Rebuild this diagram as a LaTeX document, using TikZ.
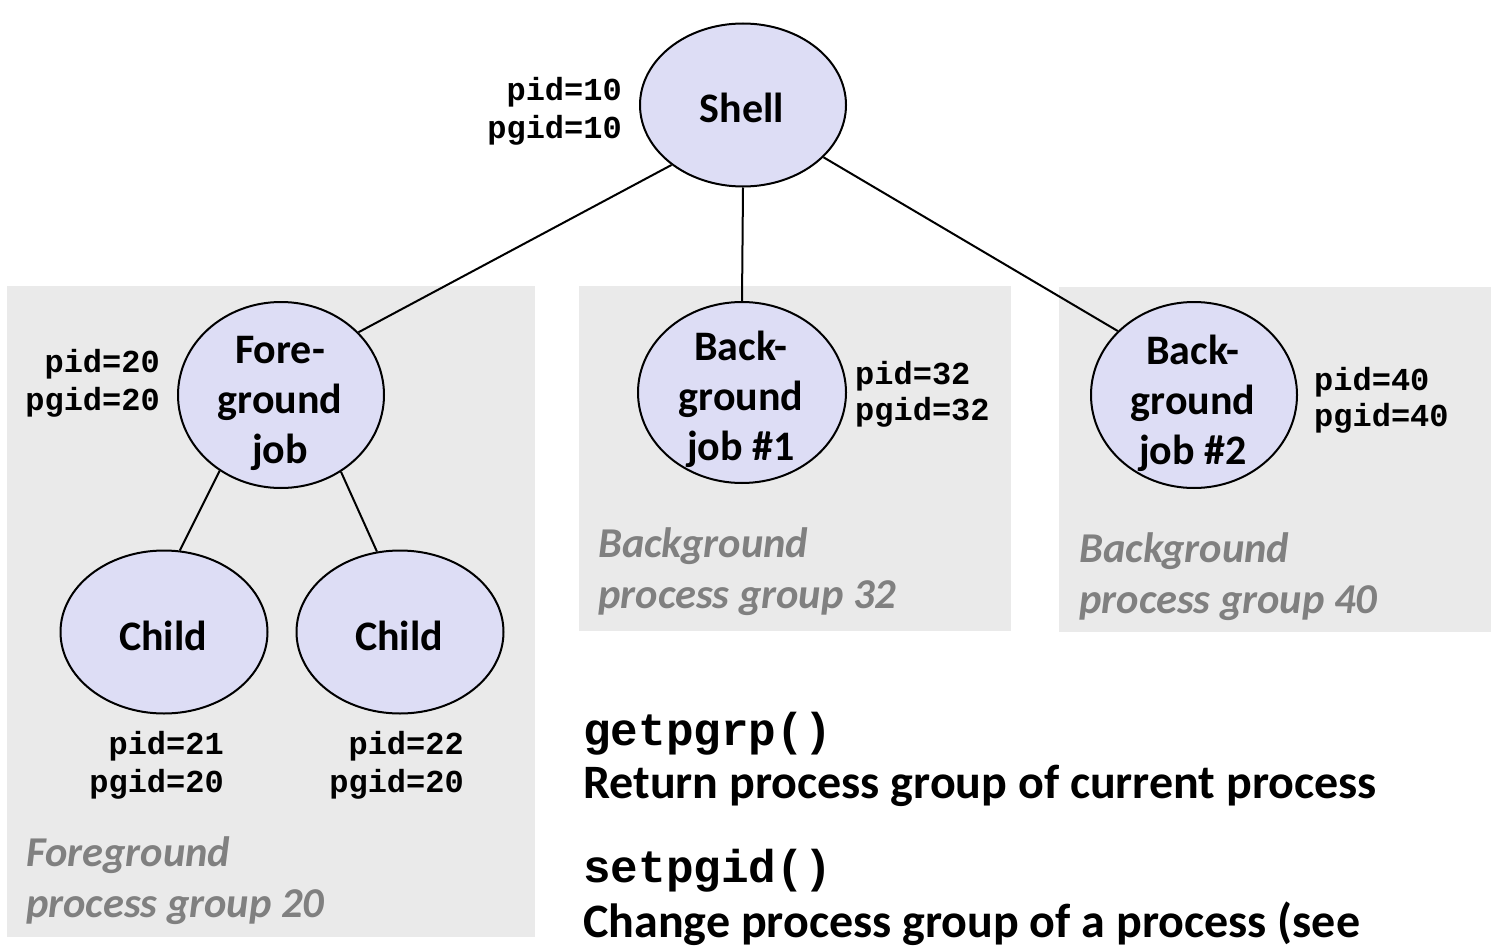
\documentclass[tikz,border=0pt]{standalone}
\usepackage{fontspec}
\setmainfont{Carlito}
\setmonofont{Liberation Mono}
\usetikzlibrary{shapes.geometric}
\definecolor{procfill}{RGB}{221,221,245}
\definecolor{groupfill}{RGB}{234,234,234}
\definecolor{grouptext}{RGB}{128,128,128}
\tikzset{
  proc/.style={ellipse, draw=black, line width=2pt, fill=procfill, inner sep=0pt,
    minimum width=#1},
  proc/.default=206pt,
  proctext/.style={align=center, inner sep=0pt, font=\fontsize{42}{50}\selectfont\bfseries},
  idl/.style={inner sep=0pt, font=\fontsize{32}{38}\selectfont\ttfamily\bfseries},
  grp/.style={fill=groupfill, draw=none},
  grplabel/.style={inner sep=0pt, anchor=base west, text=grouptext,
    font=\fontsize{42.5}{52}\selectfont\bfseries\itshape},
  edge/.style={draw=black, line width=2pt},
  codel/.style={inner sep=0pt, anchor=base west, font=\fontsize{46}{50}\selectfont\ttfamily\bfseries},
  descl/.style={inner sep=0pt, anchor=base west, font=\fontsize{48}{56}\selectfont\bfseries},
}
\begin{document}
\begin{tikzpicture}[x=1pt, y=-1pt]
\useasboundingbox (0,0) rectangle (1502,950);
% group backgrounds
\path[grp] (7,286) rectangle (535,937);
\path[grp] (579,286) rectangle (1011,631);
\path[grp] (1059,287) rectangle (1491,632);
% processes
\node[proc, minimum height=163pt] (shell) at (743,105) {};
\node[proc, minimum height=186pt] (fg) at (281,395) {};
\node[proc, minimum width=208pt, minimum height=181pt] (bg1) at (742,392.5) {};
\node[proc, minimum height=186pt] (bg2) at (1194,395) {};
\node[proc, minimum width=207pt, minimum height=163pt] (c1) at (164,632) {};
\node[proc, minimum width=207pt, minimum height=163pt] (c2) at (400,632) {};
% texts in processes
\node[proctext] (shellt) at (742,108) {Shell};
\node[proctext] (fgt) at (280,403) {Fore-\\ground\\job};
\node[proctext] (bg1t) at (741,399) {Back-\\ground\\job \#1};
\node[proctext] (bg2t) at (1193,403) {Back-\\ground\\job \#2};
\node[proctext] (c1t) at (163,636) {Child};
\node[proctext] (c2t) at (399,636) {Child};
% connectors
\draw[edge] (shell.220) -- (fg.39);
\draw[edge] (shell.south) -- (bg1.north);
\draw[edge] (shell.327) -- (bg2.140);
\draw[edge] (fg.231) -- (c1.79);
\draw[edge] (fg.308) -- (c2.106);
% id labels
\node[idl, anchor=base east] (l10a) at (622,100) {pid=10};
\node[idl, anchor=base east] (l10b) at (622,138) {pgid=10};
\node[idl, anchor=base east] (l20a) at (160,372) {pid=20};
\node[idl, anchor=base east] (l20b) at (160,410) {pgid=20};
\node[idl, anchor=base west] (l32a) at (855,384) {pid=32};
\node[idl, anchor=base west] (l32b) at (855,420) {pgid=32};
\node[idl, anchor=base west] (l40a) at (1314,390) {pid=40};
\node[idl, anchor=base west] (l40b) at (1314,426) {pgid=40};
\node[idl, anchor=base east] (l21a) at (224,754) {pid=21};
\node[idl, anchor=base east] (l21b) at (224,792) {pgid=20};
\node[idl, anchor=base east] (l22a) at (464,754) {pid=22};
\node[idl, anchor=base east] (l22b) at (464,792) {pgid=20};
% group labels
\node[grplabel] (g20a) at (26,866) {Foreground};
\node[grplabel] (g20b) at (26,917) {process group 20};
\node[grplabel] (g32a) at (598,557) {Background};
\node[grplabel] (g32b) at (598,608) {process group 32};
\node[grplabel] (g40a) at (1079,562) {Background};
\node[grplabel] (g40b) at (1079,613) {process group 40};
% bottom text
\node[codel] (get) at (583,745) {getpgrp()};
\node[descl] (getd) at (583,798) {Return process group of current process};
\node[codel] (set) at (583,882) {setpgid()};
\node[descl] (setd) at (583,937) {Change process group of a process (see};
\end{tikzpicture}
\end{document}
